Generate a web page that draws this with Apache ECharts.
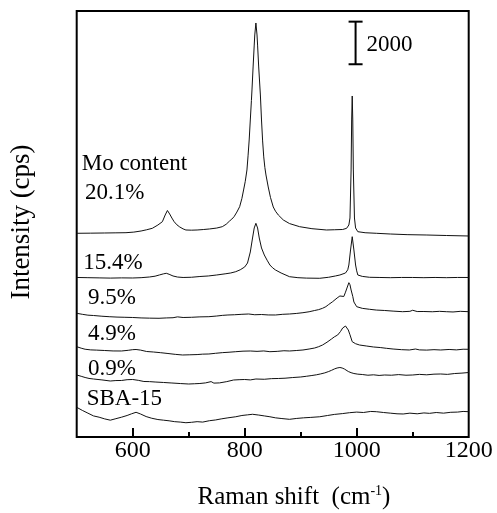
<!DOCTYPE html>
<html>
<head>
<meta charset="utf-8">
<script src="https://cdn.jsdelivr.net/npm/echarts@6/dist/echarts.min.js"></script>
<style>html,body{margin:0;padding:0;background:#fff;}#c{width:497px;height:513px;}</style>
</head>
<body>
<div id="c"></div>
<script>
// ---- data (Raman shift cm-1, intensity cps) ----
const xTickLabels = [600, 800, 1000, 1200];
const xMajorTicks = [600, 800, 1000];
const xMinorTicks = [700, 900, 1100];
const seriesNames = ['SBA-15', '0.9%', '4.9%', '9.5%', '15.4%', '20.1%'];
const labelHeader = 'Mo content';
const scaleBar = [[998, 17500, 19500]];
const scaleBarLabel = '2000';

const sba15 = [[500,1394],[510,1250],[520,1120],[530,990],[540,930],[550,850],[560,790],[570,860],[580,930],[590,1010],[598,1090],[606,1160],[614,1080],[624,960],[634,880],[645,820],[655,790],[665,760],[675,720],[685,700],[695,670],[705,690],[715,720],[725,700],[737,765],[748,800],[758,850],[770,900],[784,950],[795,1010],[805,1040],[814,1066],[825,1030],[835,990],[845,950],[855,900],[865,870],[880,830],[892,870],[905,900],[918,920],[934,950],[948,1010],[960,1060],[975,1100],[987,1140],[1000,1170],[1012,1150],[1025,1200],[1035,1188],[1048,1150],[1060,1120],[1072,1090],[1083,1080],[1095,1120],[1108,1090],[1120,1130],[1130,1110],[1142,1150],[1155,1120],[1168,1160],[1180,1170],[1190,1200],[1200,1188]];

const mo09 = [[500,2911],[508,2850],[515,2794],[522,2750],[530,2723],[545,2680],[560,2629],[570,2650],[580,2653],[590,2690],[600,2700],[610,2660],[620,2606],[630,2600],[640,2582],[655,2560],[670,2535],[685,2510],[700,2488],[710,2500],[720,2512],[730,2540],[740,2600],[745,2530],[755,2540],[768,2600],[780,2676],[790,2690],[800,2700],[810,2680],[820,2723],[835,2710],[848,2740],[860,2747],[872,2760],[885,2790],[900,2817],[910,2850],[920,2887],[928,2920],[935,2958],[943,3010],[950,3075],[955,3130],[960,3193],[965,3240],[970,3263],[974,3240],[978,3193],[985,3075],[990,3020],[995,2981],[1002,2950],[1010,2934],[1020,2900],[1030,2920],[1040,2890],[1050,2911],[1062,2900],[1075,2930],[1088,2900],[1100,2911],[1112,2940],[1125,2920],[1138,2950],[1150,2958],[1162,2940],[1175,2980],[1188,3000],[1200,3028]];

const mo49 = [[500,4240],[508,4170],[515,4120],[525,4090],[535,4080],[550,4061],[565,4040],[580,4038],[592,4070],[600,4100],[606,4108],[614,4080],[625,4014],[637,3990],[650,3958],[663,3920],[676,3880],[689,3850],[702,3860],[715,3870],[725,3890],[736,3897],[748,3930],[760,3960],[772,3980],[784,4005],[797,4030],[810,4038],[822,4020],[834,4040],[845,4005],[858,4020],[870,4050],[880,4038],[892,4060],[904,4085],[915,4130],[925,4179],[932,4240],[939,4319],[947,4450],[955,4601],[960,4700],[966,4789],[971,4950],[975,5118],[980,5211],[983,5150],[985,5024],[988,4800],[992,4474],[998,4380],[1005,4319],[1018,4270],[1030,4226],[1042,4200],[1053,4164],[1065,4130],[1080,4100],[1094,4085],[1105,4130],[1112,4090],[1125,4080],[1138,4100],[1150,4085],[1165,4110],[1178,4090],[1190,4120],[1200,4118]];

const mo95 = [[500,5808],[510,5760],[520,5720],[530,5704],[545,5670],[558,5648],[572,5630],[586,5620],[600,5611],[615,5590],[630,5580],[647,5573],[660,5590],[672,5600],[680,5640],[690,5611],[705,5620],[720,5640],[736,5648],[750,5680],[760,5710],[770,5728],[782,5740],[795,5760],[807,5775],[818,5740],[830,5751],[842,5730],[855,5728],[868,5760],[880,5775],[892,5800],[904,5836],[915,5880],[925,5939],[932,5980],[939,6042],[945,6120],[950,6221],[957,6352],[965,6526],[970,6620],[973,6667],[977,6597],[980,6800],[982,6949],[986,7244],[988,7150],[990,6902],[993,6600],[995,6338],[1000,6118],[1010,6040],[1023,5996],[1035,5960],[1050,5939],[1065,5910],[1082,5883],[1095,5900],[1100,5950],[1108,5890],[1120,5892],[1135,5880],[1148,5900],[1160,5883],[1172,5870],[1185,5900],[1200,5883]];

const mo154 = [[500,7489],[520,7480],[540,7470],[560,7460],[580,7470],[600,7465],[615,7480],[630,7512],[640,7550],[648,7610],[655,7660],[660,7686],[665,7640],[672,7559],[680,7510],[690,7489],[705,7500],[720,7535],[735,7560],[750,7606],[765,7660],[775,7700],[784,7761],[792,7850],[800,7982],[805,8169],[810,8686],[814,9343],[817,9813],[820,10033],[823,9813],[826,9343],[830,8874],[835,8545],[840,8300],[845,8075],[850,7940],[855,7841],[865,7700],[880,7526],[895,7480],[910,7460],[934,7451],[950,7500],[962,7560],[970,7606],[980,7700],[984,7850],[986,8075],[989,8780],[992,9404],[995,8780],[998,8075],[1000,7800],[1002,7606],[1010,7540],[1023,7498],[1040,7490],[1060,7480],[1080,7490],[1100,7489],[1120,7480],[1140,7490],[1160,7480],[1180,7490],[1200,7489]];

const mo201 = [[500,9564],[525,9570],[550,9578],[570,9585],[588,9592],[602,9620],[615,9672],[625,9730],[635,9798],[645,9953],[653,10108],[658,10423],[662,10634],[666,10470],[670,10280],[674,10108],[679,9960],[684,9860],[690,9770],[695,9719],[705,9710],[715,9719],[726,9740],[737,9766],[750,9810],[760,9874],[767,9990],[773,10141],[777,10230],[781,10343],[786,10560],[791,10813],[795,11200],[798,11597],[801,12000],[804,12536],[806,13200],[808,13944],[810,14883],[812,15800],[813,16292],[815,17372],[817,18400],[818,18874],[820,19437],[822,18874],[823,18400],[825,17372],[828,16057],[830,14883],[832,13900],[834,13150],[836,12650],[838,12301],[842,11738],[846,11250],[851,10799],[855,10600],[860,10423],[869,10188],[880,10020],[898,9874],[920,9780],[946,9719],[960,9730],[975,9742],[982,9798],[986,9953],[988,10282],[990,12536],[991,14883],[992,16010],[993,14883],[994,12536],[996,10282],[998,9813],[1002,9639],[1015,9590],[1035,9564],[1060,9530],[1090,9500],[1124,9484],[1160,9460],[1200,9437]];

const spectra = [sba15, mo09, mo49, mo95, mo154, mo201];

// ---- chart ----
const FONT = '"Liberation Serif", "Times New Roman", serif';
const chart = echarts.init(document.getElementById('c'), null, {renderer: 'canvas'});

const lineSeries = spectra.map((d, i) => ({
  name: seriesNames[i], type: 'line', data: d, xAxisIndex: 0, yAxisIndex: 0,
  showSymbol: false, symbol: 'none', silent: true,
  lineStyle: {color: '#111', width: 1}, z: 3
}));

const labelStyle = (text, x, y) => ({
  type: 'text', x: x, y: y,
  style: {text: text, font: '23px ' + FONT, fill: '#000', textAlign: 'left', textVerticalAlign: 'middle'}
});

chart.setOption({
  animation: false,
  backgroundColor: '#fff',
  grid: {left: 76.7, right: 28.3, top: 11, bottom: 76, show: true, borderColor: '#000', borderWidth: 2, containLabel: false},
  xAxis: [{
    type: 'value', min: 500, max: 1200, interval: 100,
    axisLine: {show: false},
    axisTick: {show: true, inside: true, length: 9, lineStyle: {color: '#000', width: 2}, customValues: xMajorTicks},
    axisLabel: {show: true, customValues: xTickLabels, formatter: function (v) { return String(v); },
      fontFamily: FONT, fontSize: 24, color: '#000', margin: 2},
    splitLine: {show: false}
  }, {
    type: 'value', min: 500, max: 1200, interval: 100, position: 'bottom', gridIndex: 0,
    axisLine: {show: false},
    axisTick: {show: true, inside: true, length: 5, lineStyle: {color: '#000', width: 2}, customValues: xMinorTicks},
    axisLabel: {show: false},
    splitLine: {show: false}
  }],
  yAxis: [{
    type: 'value', min: 0, max: 20000,
    axisLine: {show: false}, axisTick: {show: false}, axisLabel: {show: false}, splitLine: {show: false}
  }],
  series: lineSeries.concat([{
    type: 'custom', data: scaleBar, encode: {x: 0, y: [1, 2]}, silent: true, z: 4,
    renderItem: function (params, api) {
      const x = api.value(0);
      const p1 = api.coord([x, api.value(1)]);
      const p2 = api.coord([x, api.value(2)]);
      const c = 7;
      const st = {stroke: '#000', lineWidth: 2};
      return {type: 'group', children: [
        {type: 'line', shape: {x1: p1[0], y1: p1[1], x2: p2[0], y2: p2[1]}, style: st},
        {type: 'line', shape: {x1: p1[0] - c, y1: p1[1], x2: p1[0] + c, y2: p1[1]}, style: st},
        {type: 'line', shape: {x1: p2[0] - c, y1: p2[1], x2: p2[0] + c, y2: p2[1]}, style: st},
        {type: 'text', style: {text: scaleBarLabel, x: p1[0] + 11, y: (p1[1] + p2[1]) / 2 + 2, font: '23px ' + FONT, fill: '#000', textAlign: 'left', textVerticalAlign: 'middle'}}
      ]};
    }
  }]),
  graphic: [
    labelStyle(labelHeader, 81.7, 163.5),
    labelStyle(seriesNames[5], 85, 193.3),
    labelStyle(seriesNames[4], 83.3, 263.3),
    labelStyle(seriesNames[3], 88, 298.3),
    labelStyle(seriesNames[2], 88, 334),
    labelStyle(seriesNames[1], 88, 369),
    labelStyle(seriesNames[0], 86.7, 399),
    {type: 'text', x: 22, y: 222, rotation: Math.PI / 2,
      style: {text: 'Intensity (cps)', font: '27px ' + FONT, fill: '#000', textAlign: 'center', textVerticalAlign: 'middle'}},
    {type: 'text', x: 294, y: 497,
      style: {text: 'Raman shift  (cm{sup|-1})', font: '25px ' + FONT, fill: '#000', textAlign: 'center', textVerticalAlign: 'middle',
        rich: {sup: {fontSize: 14, fontFamily: FONT, verticalAlign: 'top', padding: [0, 0, 10, 0]}}}}
  ]
});
</script>
</body>
</html>
